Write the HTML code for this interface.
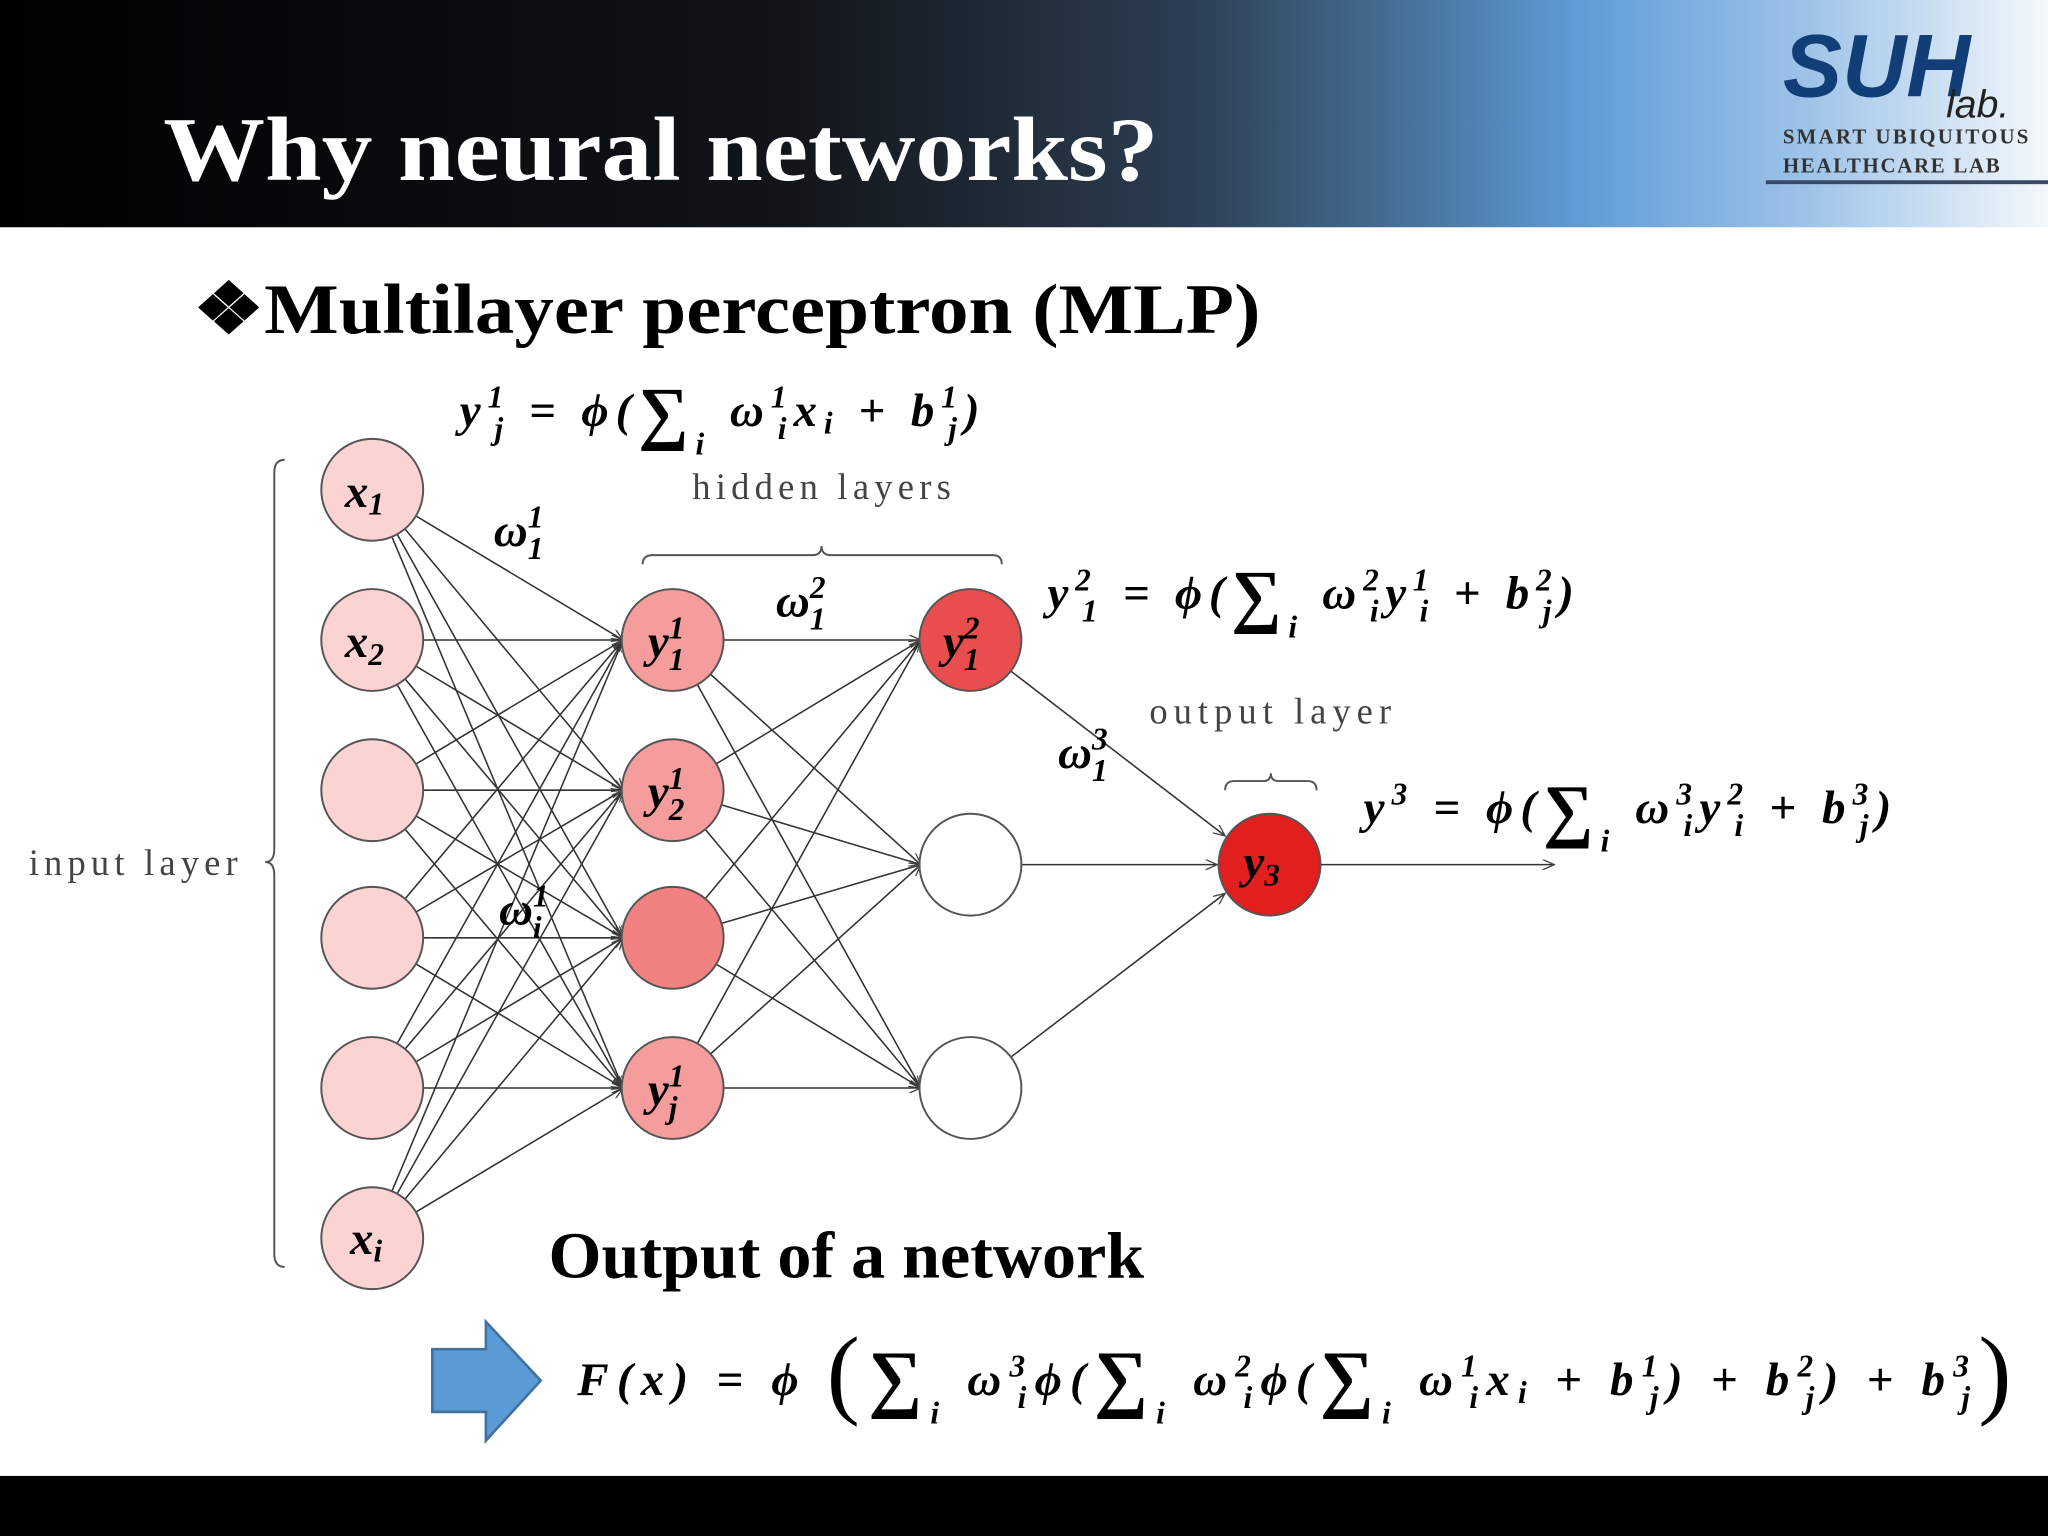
<!DOCTYPE html>
<html><head><meta charset="utf-8"><style>
html,body{margin:0;padding:0;background:#fff;}
svg{display:block;}
.m{font-family:"Liberation Serif",serif;font-style:italic;font-weight:bold;fill:#000;}
</style></head><body>
<svg width="2048" height="1536" viewBox="0 0 1568 1176" xmlns="http://www.w3.org/2000/svg">
<defs>
<linearGradient id="hg" x1="0" x2="1" y1="0" y2="0">
<stop offset="0" stop-color="#000"/>
<stop offset="0.38" stop-color="#111418"/>
<stop offset="0.58" stop-color="#2c3e52"/>
<stop offset="0.70" stop-color="#4a78a2"/>
<stop offset="0.77" stop-color="#5f9bd8"/>
<stop offset="0.88" stop-color="#9cc2e8"/>
<stop offset="1" stop-color="#f4f8fc"/>
</linearGradient>
<marker id="ar" markerWidth="10" markerHeight="8" refX="9" refY="4" orient="auto" markerUnits="userSpaceOnUse">
<path d="M0,0 L9,4 L0,8" fill="none" stroke="#444" stroke-width="1"/>
</marker>
</defs>
<rect x="0" y="0" width="1568" height="174" fill="url(#hg)"/>
<text x="125" y="138" font-family="Liberation Serif,serif" font-weight="bold" font-size="70" fill="#fff" textLength="762" lengthAdjust="spacingAndGlyphs">Why neural networks?</text>
<text x="1365" y="74" font-family="Liberation Sans,sans-serif" font-style="italic" font-weight="bold" font-size="68" fill="#123e78">SUH</text>
<text x="1490" y="90" font-family="Liberation Sans,sans-serif" font-style="italic" font-size="30" fill="#222">lab.</text>
<text x="1365" y="110" font-family="Liberation Serif,serif" font-weight="bold" font-size="16" fill="#333" textLength="188">SMART UBIQUITOUS</text>
<text x="1365" y="132" font-family="Liberation Serif,serif" font-weight="bold" font-size="16" fill="#333" textLength="166">HEALTHCARE LAB</text>
<rect x="1352" y="138" width="216" height="3" fill="#3a4a66"/>
<rect x="0" y="1130" width="1568" height="46" fill="#000"/>

<text x="148" y="255" font-family="Liberation Serif,serif" font-weight="bold" font-size="54" fill="#000" textLength="817" lengthAdjust="spacingAndGlyphs">❖Multilayer perceptron (MLP)</text>

<g stroke="#333" stroke-width="1.2" fill="none" marker-end="url(#ar)">
<line x1="285" y1="375" x2="477" y2="490"/><line x1="285" y1="375" x2="477" y2="605"/><line x1="285" y1="375" x2="477" y2="718"/><line x1="285" y1="375" x2="477" y2="833"/>
<line x1="285" y1="490" x2="477" y2="490"/><line x1="285" y1="490" x2="477" y2="605"/><line x1="285" y1="490" x2="477" y2="718"/><line x1="285" y1="490" x2="477" y2="833"/>
<line x1="285" y1="605" x2="477" y2="490"/><line x1="285" y1="605" x2="477" y2="605"/><line x1="285" y1="605" x2="477" y2="718"/><line x1="285" y1="605" x2="477" y2="833"/>
<line x1="285" y1="718" x2="477" y2="490"/><line x1="285" y1="718" x2="477" y2="605"/><line x1="285" y1="718" x2="477" y2="718"/><line x1="285" y1="718" x2="477" y2="833"/>
<line x1="285" y1="833" x2="477" y2="490"/><line x1="285" y1="833" x2="477" y2="605"/><line x1="285" y1="833" x2="477" y2="718"/><line x1="285" y1="833" x2="477" y2="833"/>
<line x1="285" y1="948" x2="477" y2="490"/><line x1="285" y1="948" x2="477" y2="605"/><line x1="285" y1="948" x2="477" y2="718"/><line x1="285" y1="948" x2="477" y2="833"/>
<line x1="515" y1="490" x2="705" y2="490"/><line x1="515" y1="490" x2="705" y2="662"/><line x1="515" y1="490" x2="705" y2="833"/>
<line x1="515" y1="605" x2="705" y2="490"/><line x1="515" y1="605" x2="705" y2="662"/><line x1="515" y1="605" x2="705" y2="833"/>
<line x1="515" y1="718" x2="705" y2="490"/><line x1="515" y1="718" x2="705" y2="662"/><line x1="515" y1="718" x2="705" y2="833"/>
<line x1="515" y1="833" x2="705" y2="490"/><line x1="515" y1="833" x2="705" y2="662"/><line x1="515" y1="833" x2="705" y2="833"/>
<line x1="743" y1="490" x2="938" y2="640"/><line x1="743" y1="662" x2="932" y2="662"/><line x1="743" y1="833" x2="938" y2="684"/>
<line x1="1010" y1="662" x2="1190" y2="662"/>
</g>

<g stroke="#555" stroke-width="1.5">
<circle cx="285" cy="375" r="39" fill="#fcd3d3"/><circle cx="285" cy="490" r="39" fill="#fcd3d3"/><circle cx="285" cy="605" r="39" fill="#fcd3d3"/>
<circle cx="285" cy="718" r="39" fill="#fcd3d3"/><circle cx="285" cy="833" r="39" fill="#fcd3d3"/><circle cx="285" cy="948" r="39" fill="#fcd3d3"/>
<circle cx="515" cy="490" r="39" fill="#f59c9c"/><circle cx="515" cy="605" r="39" fill="#f59c9c"/><circle cx="515" cy="718" r="39" fill="#f28282"/><circle cx="515" cy="833" r="39" fill="#f59c9c"/>
<circle cx="743" cy="490" r="39" fill="#ea4d4d"/><circle cx="743" cy="662" r="39" fill="#fff"/><circle cx="743" cy="833" r="39" fill="#fff"/>
<circle cx="972" cy="662" r="39" fill="#e21f1f"/>
</g>

<g class="m" font-size="36">
<text x="264" y="388">x<tspan font-size="24" dy="6">1</tspan></text>
<text x="264" y="503">x<tspan font-size="24" dy="6">2</tspan></text>
<text x="268" y="960">x<tspan font-size="24" dy="6">i</tspan></text>
<text x="496" y="503">y<tspan font-size="24" dy="-14">1</tspan><tspan font-size="24" dx="-12" dy="24">1</tspan></text>
<text x="496" y="618">y<tspan font-size="24" dy="-14">1</tspan><tspan font-size="24" dx="-12" dy="24">2</tspan></text>
<text x="496" y="846">y<tspan font-size="24" dy="-14">1</tspan><tspan font-size="24" dx="-12" dy="24">j</tspan></text>
<text x="722" y="503">y<tspan font-size="24" dy="-14">2</tspan><tspan font-size="24" dx="-12" dy="24">1</tspan></text>
<text x="952" y="672">y<tspan font-size="24" dy="6">3</tspan></text>
<text x="378" y="418">ω<tspan font-size="24" dy="-14">1</tspan><tspan font-size="24" dx="-12" dy="24">1</tspan></text>
<text x="594" y="472">ω<tspan font-size="24" dy="-14">2</tspan><tspan font-size="24" dx="-12" dy="24">1</tspan></text>
<text x="810" y="588">ω<tspan font-size="24" dy="-14">3</tspan><tspan font-size="24" dx="-12" dy="24">1</tspan></text>
<text x="382" y="708">ω<tspan font-size="24" dy="-14">1</tspan><tspan font-size="24" dx="-12" dy="24">i</tspan></text>
<text x="352" y="326" textLength="398">y<tspan font-size="24" dy="-14">1</tspan><tspan font-size="24" dx="-12" dy="24">j</tspan><tspan dy="-10"> = ϕ(</tspan><tspan font-size="54" font-style="normal" dy="8">∑</tspan><tspan font-size="24" dy="14">i</tspan><tspan dy="-22"> ω</tspan><tspan font-size="24" dy="-14">1</tspan><tspan font-size="24" dx="-12" dy="24">i</tspan><tspan dy="-10">x</tspan><tspan font-size="24" dy="6">i</tspan><tspan dy="-6"> + b</tspan><tspan font-size="24" dy="-14">1</tspan><tspan font-size="24" dx="-12" dy="24">j</tspan><tspan dy="-10">)</tspan></text>
<text x="802" y="466" textLength="403">y<tspan font-size="24" dy="-14">2</tspan><tspan font-size="24" dx="-12" dy="24">1</tspan><tspan dy="-10"> = ϕ(</tspan><tspan font-size="54" font-style="normal" dy="8">∑</tspan><tspan font-size="24" dy="14">i</tspan><tspan dy="-22"> ω</tspan><tspan font-size="24" dy="-14">2</tspan><tspan font-size="24" dx="-12" dy="24">i</tspan><tspan dy="-10">y</tspan><tspan font-size="24" dy="-14">1</tspan><tspan font-size="24" dx="-12" dy="24">i</tspan><tspan dy="-10"> + b</tspan><tspan font-size="24" dy="-14">2</tspan><tspan font-size="24" dx="-12" dy="24">j</tspan><tspan dy="-10">)</tspan></text>
<text x="1044" y="630" textLength="404">y<tspan font-size="24" dy="-14">3</tspan><tspan dy="14"> = ϕ(</tspan><tspan font-size="54" font-style="normal" dy="8">∑</tspan><tspan font-size="24" dy="14">i</tspan><tspan dy="-22"> ω</tspan><tspan font-size="24" dy="-14">3</tspan><tspan font-size="24" dx="-12" dy="24">i</tspan><tspan dy="-10">y</tspan><tspan font-size="24" dy="-14">2</tspan><tspan font-size="24" dx="-12" dy="24">i</tspan><tspan dy="-10"> + b</tspan><tspan font-size="24" dy="-14">3</tspan><tspan font-size="24" dx="-12" dy="24">j</tspan><tspan dy="-10">)</tspan></text>
<text x="442" y="1068" textLength="1098">F(x) = ϕ <tspan font-size="76" font-style="normal" font-weight="normal" dy="8">(</tspan><tspan font-size="58" font-style="normal" dy="-2">∑</tspan><tspan font-size="24" dy="16">i</tspan><tspan dy="-22"> ω</tspan><tspan font-size="24" dy="-14">3</tspan><tspan font-size="24" dx="-12" dy="24">i</tspan><tspan dy="-10">ϕ(</tspan><tspan font-size="58" font-style="normal" dy="6">∑</tspan><tspan font-size="24" dy="16">i</tspan><tspan dy="-22"> ω</tspan><tspan font-size="24" dy="-14">2</tspan><tspan font-size="24" dx="-12" dy="24">i</tspan><tspan dy="-10">ϕ(</tspan><tspan font-size="58" font-style="normal" dy="6">∑</tspan><tspan font-size="24" dy="16">i</tspan><tspan dy="-22"> ω</tspan><tspan font-size="24" dy="-14">1</tspan><tspan font-size="24" dx="-12" dy="24">i</tspan><tspan dy="-10">x</tspan><tspan font-size="24" dy="6">i</tspan><tspan dy="-6"> + b</tspan><tspan font-size="24" dy="-14">1</tspan><tspan font-size="24" dx="-12" dy="24">j</tspan><tspan dy="-10">) + b</tspan><tspan font-size="24" dy="-14">2</tspan><tspan font-size="24" dx="-12" dy="24">j</tspan><tspan dy="-10">) + b</tspan><tspan font-size="24" dy="-14">3</tspan><tspan font-size="24" dx="-12" dy="24">j</tspan><tspan font-size="76" font-style="normal" font-weight="normal" dy="-2">)</tspan></text>
</g>

<g font-family="Liberation Serif,serif" font-size="28" fill="#444">
<text x="22" y="670" textLength="160">input layer</text>
<text x="530" y="382" textLength="198">hidden layers</text>
<text x="880" y="554" textLength="185">output layer</text>
</g>
<g stroke="#555" stroke-width="1.5" fill="none">
<path d="M218,352 Q210,352 210,362 L210,650 Q210,660 203,660 Q210,660 210,670 L210,960 Q210,970 218,970"/>
<path d="M492,432 Q492,425 500,425 L622,425 Q629,425 629,418 Q629,425 636,425 L760,425 Q767,425 767,432"/>
<path d="M938,605 Q938,598 945,598 L967,598 Q973,598 973,592 Q973,598 979,598 L1001,598 Q1008,598 1008,605"/>
</g>

<text x="420" y="978" font-family="Liberation Serif,serif" font-weight="bold" font-size="50" fill="#000" textLength="456" lengthAdjust="spacingAndGlyphs">Output of a network</text>
<path d="M331,1033 L372,1033 L372,1012 L414,1057 L372,1103 L372,1081 L331,1081 Z" fill="#5b9bd5" stroke="#41719c" stroke-width="2"/>
</svg>
</body></html>
